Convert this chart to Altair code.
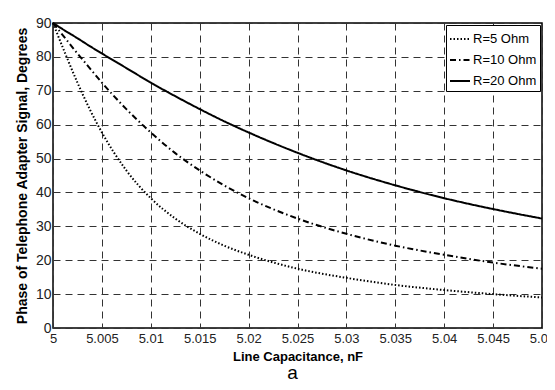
import altair as alt
import pandas as pd

# Line capacitance, nF
cap = [5.0, 5.00125, 5.0025, 5.00375, 5.005, 5.0075, 5.01, 5.0125, 5.015,
       5.0175, 5.02, 5.025, 5.03, 5.035, 5.04, 5.045, 5.05]
# Phase, degrees
r5 = [90, 81.0, 72.4, 64.6, 57.7, 46.5, 38.3, 32.3, 27.8, 24.3, 21.6,
      17.5, 14.8, 12.7, 11.2, 10.0, 9.0]
r10 = [90, 85.5, 81.0, 76.7, 72.4, 64.6, 57.7, 51.6, 46.5, 42.1, 38.3,
       32.3, 27.8, 24.3, 21.6, 19.3, 17.5]
r20 = [90, 87.7, 85.5, 83.2, 81.0, 76.7, 72.4, 68.4, 64.6, 61.0, 57.7,
       51.7, 46.5, 42.1, 38.3, 35.1, 32.3]
series = ["R=5 Ohm", "R=10 Ohm", "R=20 Ohm"]
x_ticks = [5, 5.005, 5.01, 5.015, 5.02, 5.025, 5.03, 5.035, 5.04, 5.045, 5.05]
y_ticks = [0, 10, 20, 30, 40, 50, 60, 70, 80, 90]

rows = []
for name, vals in zip(series, [r5, r10, r20]):
    for c, v in zip(cap, vals):
        rows.append({"cap": c, "phase": v, "series": name})
df = pd.DataFrame(rows)

FONT = "Liberation Sans"

chart = alt.Chart(df).mark_line(
    color="black", strokeWidth=2, interpolate="monotone"
).encode(
    x=alt.X("cap:Q", title="Line Capacitance, nF",
            scale=alt.Scale(domain=[5, 5.05], nice=False, zero=False),
            axis=alt.Axis(values=x_ticks, format=".3~f", grid=True,
                          gridDash=[7, 5], gridColor="#333", gridWidth=1,
                          ticks=False, domain=False, labelPadding=4,
                          labelFontSize=13, labelColor="#222", labelFont=FONT,
                          titleFont=FONT, titleFontSize=13, titleFontWeight="bold",
                          titleColor="#000", titlePadding=5, labelFlush=False)),
    y=alt.Y("phase:Q", title="Phase of Telephone Adapter Signal, Degrees",
            scale=alt.Scale(domain=[0, 90], nice=False),
            axis=alt.Axis(values=y_ticks, grid=True,
                          gridDash=[7, 5], gridColor="#333", gridWidth=1,
                          ticks=False, domain=False, labelPadding=2,
                          labelFontSize=14, labelColor="#222", labelFont=FONT,
                          titleFont=FONT, titleFontSize=14, titleFontWeight="bold",
                          titleColor="#000", titlePadding=6)),
    strokeDash=alt.StrokeDash(
        "series:N",
        scale=alt.Scale(domain=series, range=[[1.5, 2], [6, 3, 1.5, 3], [1, 0]]),
        legend=alt.Legend(title=None, orient="none", legendX=393, legendY=2,
                          symbolType="stroke", symbolSize=400, symbolStrokeWidth=2,
                          symbolStrokeColor="black",
                          labelFont=FONT, labelFontSize=13, labelColor="#000",
                          labelOffset=2,
                          padding=3, rowPadding=3, strokeColor="black",
                          fillColor="white", cornerRadius=0),
    ),
    detail="series:N",
).properties(
    width=489, height=305,
    autosize=alt.AutoSizeParams(type="none"),
    padding={"left": 45, "top": 15, "right": 5, "bottom": 54},
    title=alt.TitleParams("a", orient="bottom", fontSize=19, fontWeight="normal",
                          font=FONT, color="#000", baseline="alphabetic",
                          offset=16, dx=-5),
).configure_view(
    stroke="black", strokeWidth=1.5
)

chart.save("out.html", embed_options={"renderer": "svg", "actions": False})
